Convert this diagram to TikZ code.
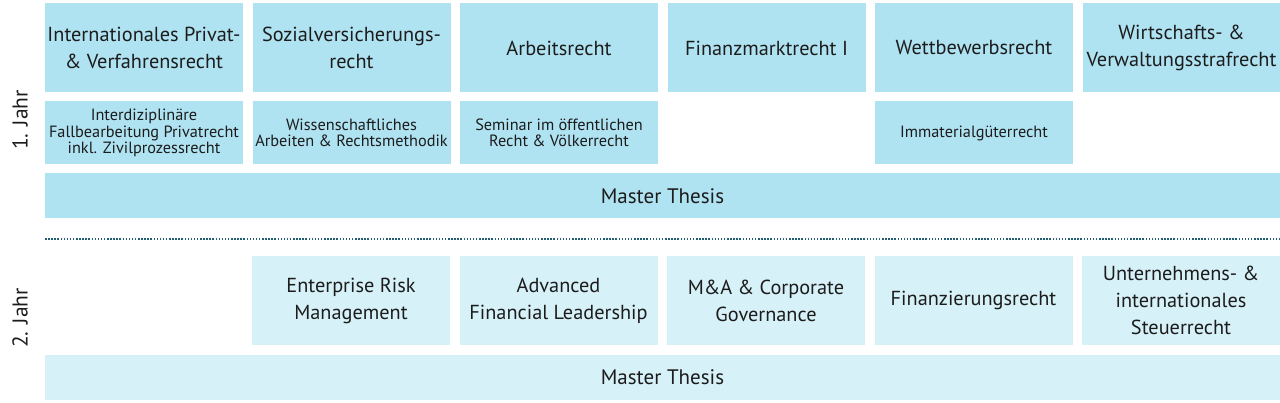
\documentclass[tikz,border=0pt]{standalone}
\usepackage{fontspec}
\setmainfont{PT Sans}
\usetikzlibrary{positioning}
\definecolor{mfblue}{RGB}{176,227,242}
\definecolor{mflightblue}{RGB}{215,241,248}
\definecolor{mftext}{RGB}{28,28,28}
\definecolor{mfdots}{RGB}{35,95,115}
\tikzstyle{course} = [rectangle, minimum width=198pt, minimum height=89pt, inner sep=0pt, outer sep=0pt, text centered, align=center, fill=mfblue, text=mftext, font=\fontsize{20.3}{27}\selectfont]
\tikzstyle{seminar} = [course, minimum height=63pt, font=\fontsize{16.3}{16.5}\selectfont]
\tikzstyle{thesis} = [course, minimum width=1235pt, minimum height=45pt, font=\fontsize{21}{27}\selectfont]
\tikzstyle{elective} = [course, fill=mflightblue]
\tikzstyle{year} = [rotate=90, text=mftext, font=\fontsize{21.5}{24}\selectfont]

\begin{document}
\begin{tikzpicture}[node distance=9.5pt, x=1pt, y=1pt]
\useasboundingbox (0,0) rectangle (1280,-403);
% 1. Jahr, Pflichtfaecher
\node (ipr) [course, anchor=north west] at (45,-3.5) {Internationales Privat-\\\& Verfahrensrecht};
\node (svr) [course, right=of ipr] {Sozialversicherungs-\\recht};
\node (arb) [course, right=of svr] {Arbeitsrecht};
\node (fmr) [course, right=of arb] {Finanzmarktrecht I};
\node (wbr) [course, right=of fmr] {Wettbewerbsrecht};
\node (wvs) [course, right=of wbr] {Wirtschafts- \&\\Verwaltungsstrafrecht};

% 1. Jahr, zweite Reihe
\node (ifb) [seminar, below=9pt of ipr] {Interdiziplinäre\\Fallbearbeitung Privatrecht\\inkl. Zivilprozessrecht};
\node (war) [seminar, below=9pt of svr] {Wissenschaftliches\\Arbeiten \& Rechtsmethodik};
\node (sem) [seminar, below=9pt of arb] {Seminar im öffentlichen\\Recht \& Völkerrecht};
\node (imm) [seminar, below=9pt of wbr] {Immaterialgüterrecht};

% Master Thesis 1
\node (mt1) [thesis, below=9pt of ifb.south west, anchor=north west] {Master Thesis};

% Trennlinie
\coordinate (sepL) at (45,-238.7);
\coordinate (sepR) at (1280,-238.7);
\draw[mfdots, line width=1.7pt, dash pattern=on 1.5pt off 1.6pt] (sepL) -- (sepR);

% 2. Jahr
\node (erm) [elective, anchor=north west] at (252,-256) {Enterprise Risk\\Management};
\node (afl) [elective, right=of erm] {Advanced\\Financial Leadership};
\node (mac) [elective, right=of afl] {M\&A \& Corporate\\Governance};
\node (fzr) [elective, right=of mac] {Finanzierungsrecht};
\node (str) [elective, right=of fzr] {Unternehmens- \&\\internationales\\Steuerrecht};

% Master Thesis 2
\node (mt2) [thesis, fill=mflightblue, anchor=north west] at (45,-355) {Master Thesis};

% Jahre
\node (jahr1) [year] at (20,-120) {1. Jahr};
\node (jahr2) [year] at (20,-318) {2. Jahr};
\end{tikzpicture}
\end{document}
